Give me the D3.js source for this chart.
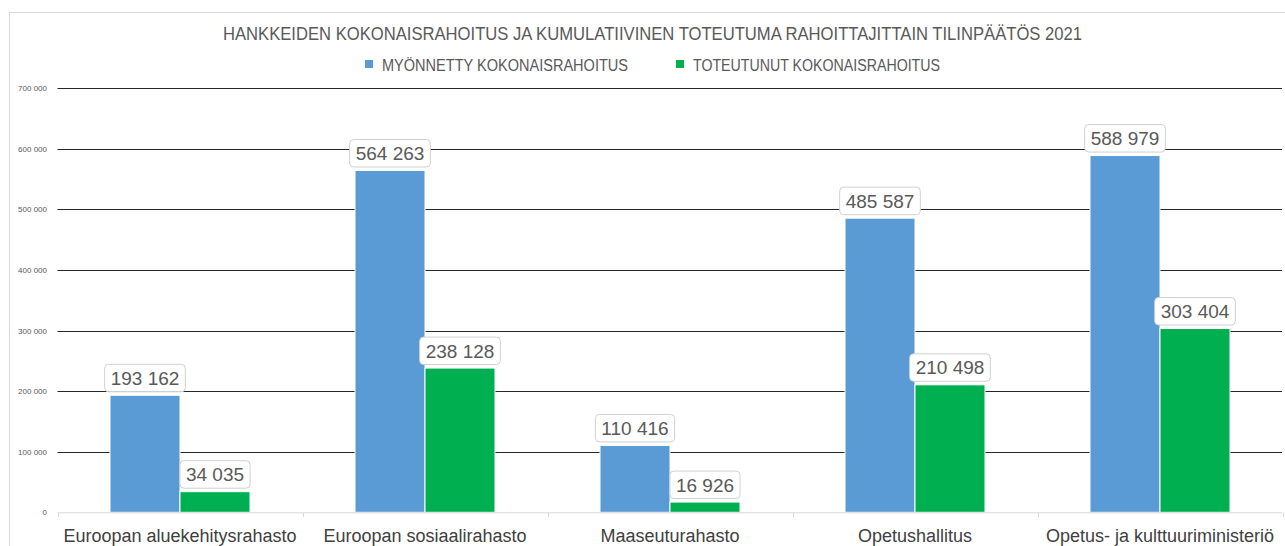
<!DOCTYPE html>
<html><head><meta charset="utf-8">
<script src="https://cdn.jsdelivr.net/npm/d3@7"></script>
<style>body{margin:0;background:#fff;overflow:hidden}svg{display:block}</style>
</head><body>
<svg id="c" width="1285" height="546"></svg>
<script>
const categories = ["Euroopan aluekehitysrahasto","Euroopan sosiaalirahasto","Maaseuturahasto","Opetushallitus","Opetus- ja kulttuuriministeriö"];
const seriesNames = ["MYÖNNETTY KOKONAISRAHOITUS","TOTEUTUNUT KOKONAISRAHOITUS"];
const granted = [193162, 564263, 110416, 485587, 588979];
const realized = [34035, 238128, 16926, 210498, 303404];
const yTicks = [0,100000,200000,300000,400000,500000,600000,700000];
const titleText = "HANKKEIDEN KOKONAISRAHOITUS JA KUMULATIIVINEN TOTEUTUMA RAHOITTAJITTAIN TILINPÄÄTÖS 2021";
const colors = ["#5B9BD5","#00B050"];

const svg = d3.select("#c");
const fmt = v => d3.format(",")(v).replace(/,/g, " ");

// outer border
svg.append("path").attr("d","M9.5,546 V12.5 H1290").attr("fill","none").attr("stroke","#d9d9d9").attr("stroke-width",1);

const y = d3.scaleLinear().domain([0,700000]).range([512.3,88.3]);
const x0 = d3.scaleBand().domain(categories).range([57.5,1282.5]);
const x1 = d3.scaleBand().domain(seriesNames).range([0,x0.bandwidth()]).paddingOuter(0.75);

// gridlines
svg.append("g").selectAll("line").data(yTicks.filter(d=>d>0)).join("line")
  .attr("x1",57.5).attr("x2",1282).attr("y1",d=>Math.round(y(d))+0.5).attr("y2",d=>Math.round(y(d))+0.5)
  .attr("stroke","#262626").attr("stroke-width",1);

// y labels
svg.append("g").selectAll("text").data(yTicks).join("text")
  .attr("x",47).attr("y",d=>y(d)+3).attr("text-anchor","end")
  .attr("font-family","Liberation Sans, Arial, sans-serif").attr("font-size",8).attr("fill","#595959")
  .text(d=>fmt(d));

// bars
const rows = categories.map((c,i)=>({cat:c, vals:[granted[i],realized[i]]}));
const g = svg.append("g");
rows.forEach(r=>{
  r.vals.forEach((v,j)=>{
    const bx = x0(r.cat)+x1(seriesNames[j]);
    g.append("rect").attr("x",bx).attr("y",y(v)).attr("width",x1.bandwidth()).attr("height",y(0)-y(v))
      .attr("fill",colors[j]).attr("stroke","#fff").attr("stroke-width",1);
  });
});

// baseline and ticks
svg.append("line").attr("x1",57.5).attr("x2",1282.5).attr("y1",512.8).attr("y2",512.8).attr("stroke","#d9d9d9").attr("stroke-width",1);
svg.append("g").selectAll("line").data(categories.map(c=>x0(c)).concat([x0.range()[1]])).join("line")
  .attr("x1",d=>Math.round(d)+0.5).attr("x2",d=>Math.round(d)+0.5).attr("y1",512.8).attr("y2",517)
  .attr("stroke","#d9d9d9");

// data labels
const lg = svg.append("g");
rows.forEach(r=>{
  r.vals.forEach((v,j)=>{
    const cx = x0(r.cat)+x1(seriesNames[j])+x1.bandwidth()/2;
    const t = lg.append("text").attr("x",cx).attr("y",y(v)-10.5).attr("text-anchor","middle")
      .attr("font-family","Liberation Sans, Arial, sans-serif").attr("font-size",19).attr("fill","#595959")
      .text(fmt(v));
    const w = t.node().getComputedTextLength();
    lg.insert("rect", () => t.node()).attr("x",cx-w/2-6).attr("y",y(v)-31).attr("width",w+12).attr("height",27.5)
      .attr("rx",4).attr("fill","#fff").attr("stroke","#d0d0d0").attr("stroke-width",1);
  });
});

// x labels
svg.append("g").selectAll("text").data(categories).join("text")
  .attr("x",d=>x0(d)+x0.bandwidth()/2).attr("y",541.5).attr("text-anchor","middle")
  .attr("font-family","Liberation Sans, Arial, sans-serif").attr("font-size",18).attr("fill","#404040")
  .text(d=>d);

// title
svg.append("text").attr("x",223).attr("y",39.7).attr("textLength",859).attr("lengthAdjust","spacingAndGlyphs")
  .attr("font-family","Liberation Sans Narrow, Liberation Sans, Arial, sans-serif").attr("font-size",18).attr("fill","#595959")
  .text(titleText);

// legend
const legX = [365,676], legTextX=[382,693], legW=[246,247];
seriesNames.forEach((s,j)=>{
  svg.append("rect").attr("x",legX[j]).attr("y",60).attr("width",8).attr("height",8).attr("fill",colors[j]);
  svg.append("text").attr("x",legTextX[j]).attr("y",70.5).attr("textLength",legW[j]).attr("lengthAdjust","spacingAndGlyphs")
    .attr("font-family","Liberation Sans Narrow, Liberation Sans, Arial, sans-serif").attr("font-size",16).attr("fill","#595959").text(s);
});
</script>
</body></html>
